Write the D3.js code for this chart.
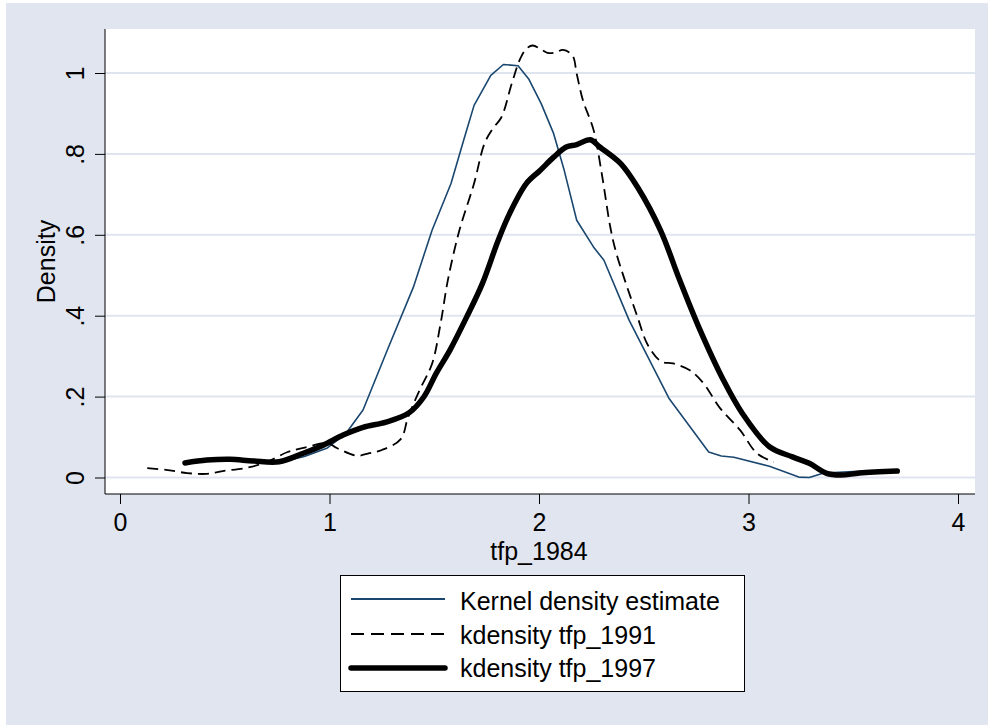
<!DOCTYPE html>
<html>
<head>
<meta charset="utf-8">
<script src="https://cdn.jsdelivr.net/npm/d3@7"></script>
<style>
  html, body { margin: 0; padding: 0; background: #fff; }
  svg { display: block; font-family: "Liberation Sans", Arial, sans-serif; }
</style>
</head>
<body>
<svg width="988" height="725"></svg>
<script>
// tick labels
const xTicks = [0, 1, 2, 3, 4];
const yTicks = [0, 0.2, 0.4, 0.6, 0.8, 1];
const yTickLabels = ["0", ".2", ".4", ".6", ".8", "1"];

// series
const x1984 = [0.31, 0.42, 0.53, 0.64, 0.76, 0.88, 0.99, 1.08, 1.16, 1.28, 1.40, 1.49, 1.58, 1.64, 1.69, 1.77, 1.83, 1.90, 1.95, 2.01, 2.07, 2.12, 2.18, 2.26, 2.31, 2.43, 2.62, 2.81, 2.87, 2.93, 3.10, 3.24, 3.29, 3.36, 3.50, 3.72];
const y1984 = [0.034, 0.040, 0.043, 0.040, 0.037, 0.052, 0.073, 0.110, 0.167, 0.320, 0.470, 0.612, 0.727, 0.833, 0.920, 0.994, 1.021, 1.018, 0.986, 0.925, 0.850, 0.760, 0.636, 0.570, 0.537, 0.389, 0.196, 0.063, 0.053, 0.050, 0.028, 0.001, 0.000, 0.011, 0.015, 0.018];

const x1991 = [0.13, 0.22, 0.32, 0.415, 0.49, 0.605, 0.70, 0.80, 0.875, 0.99, 1.035, 1.13, 1.19, 1.25, 1.34, 1.375, 1.43, 1.49, 1.53, 1.565, 1.62, 1.69, 1.74, 1.78, 1.82, 1.87, 1.91, 1.94, 1.97, 2.005, 2.04, 2.075, 2.115, 2.16, 2.18, 2.21, 2.26, 2.30, 2.34, 2.37, 2.47, 2.52, 2.585, 2.64, 2.72, 2.785, 2.865, 2.96, 3.04, 3.12];
const y1991 = [0.023, 0.019, 0.011, 0.009, 0.016, 0.024, 0.038, 0.063, 0.073, 0.085, 0.073, 0.054, 0.060, 0.068, 0.095, 0.149, 0.216, 0.282, 0.380, 0.488, 0.611, 0.727, 0.826, 0.863, 0.890, 0.974, 1.035, 1.060, 1.068, 1.060, 1.050, 1.050, 1.057, 1.043, 0.998, 0.932, 0.860, 0.750, 0.620, 0.553, 0.397, 0.327, 0.286, 0.282, 0.265, 0.233, 0.171, 0.117, 0.060, 0.038];

const x1997 = [0.31, 0.415, 0.525, 0.635, 0.76, 0.875, 0.97, 1.065, 1.16, 1.27, 1.38, 1.45, 1.51, 1.575, 1.655, 1.73, 1.805, 1.86, 1.94, 2.005, 2.07, 2.13, 2.18, 2.245, 2.29, 2.39, 2.47, 2.58, 2.67, 2.76, 2.88, 2.97, 3.10, 3.21, 3.29, 3.37, 3.44, 3.53, 3.71];
const y1997 = [0.036, 0.043, 0.045, 0.041, 0.039, 0.060, 0.080, 0.105, 0.124, 0.137, 0.160, 0.199, 0.258, 0.315, 0.397, 0.480, 0.586, 0.653, 0.727, 0.759, 0.792, 0.817, 0.823, 0.835, 0.817, 0.776, 0.718, 0.611, 0.490, 0.375, 0.241, 0.159, 0.076, 0.051, 0.035, 0.011, 0.006, 0.011, 0.016];

const legendLabels = ["Kernel density estimate", "kdensity tfp_1991", "kdensity tfp_1997"];

const series = [
    {xs: x1984, ys: y1984, color: "#1a476f", width: 1.6, dash: null, curve: d3.curveLinear},
    {xs: x1991, ys: y1991, color: "#000", width: 1.8, dash: "11,6", curve: d3.curveCatmullRom},
    {xs: x1997, ys: y1997, color: "#000", width: 5.5, dash: null, curve: d3.curveCatmullRom}
];

const fontSize = "25px";
const svg = d3.select("svg");
const area = {left: 105, right: 975, top: 29, bottom: 494};

// graph region background
svg.append("rect")
    .attr("x", 6).attr("y", 3)
    .attr("width", 988 - 6).attr("height", 725 - 3)
    .attr("fill", "#e0e5ef");

// plot region
svg.append("rect")
    .attr("x", area.left).attr("y", area.top)
    .attr("width", area.right - area.left).attr("height", area.bottom - area.top)
    .attr("fill", "#fff");

const scX = d3.scaleLinear().domain([0, 4]).range([120, 958]);
const scY = d3.scaleLinear().domain([0, 1]).range([477.5, 73]);

// grid
svg.append("g")
    .selectAll("line")
    .data(yTicks)
    .enter()
    .append("line")
    .attr("x1", area.left).attr("x2", area.right)
    .attr("y1", d => scY(d)).attr("y2", d => scY(d))
    .attr("stroke", "#dfe5ef")
    .attr("stroke-width", 2);

// axes
const axisY = d3.axisLeft(scY)
    .tickValues(yTicks)
    .tickFormat((d, i) => yTickLabels[i])
    .tickSize(10)
    .tickSizeOuter(0);
const gY = svg.append("g")
    .attr("transform", `translate(${area.left}, 0)`)
    .call(axisY);
gY.select(".domain").attr("d", `M0,${area.top}V${area.bottom}`);
gY.selectAll("text")
    .attr("x", 0).attr("dy", 0)
    .attr("transform", "translate(-21,0) rotate(-90)")
    .style("text-anchor", "middle")
    .style("font-size", fontSize)
    .style("font-family", "Liberation Sans, Arial, sans-serif")
    .attr("fill", "#000");

const axisX = d3.axisBottom(scX)
    .tickValues(xTicks)
    .tickFormat(d3.format("d"))
    .tickSize(10)
    .tickSizeOuter(0);
const gX = svg.append("g")
    .attr("transform", `translate(0, ${area.bottom})`)
    .call(axisX);
gX.select(".domain").attr("d", `M${area.left},0H${area.right}`);
gX.selectAll("text")
    .attr("y", 37).attr("dy", 0)
    .style("font-size", fontSize)
    .style("font-family", "Liberation Sans, Arial, sans-serif")
    .attr("fill", "#000");
svg.selectAll(".domain, .tick line").attr("stroke", "#000");

// axis titles
svg.append("text")
    .attr("transform", `translate(55, ${(area.top + area.bottom) / 2}) rotate(-90)`)
    .attr("text-anchor", "middle")
    .style("font-size", fontSize)
    .text("Density");
svg.append("text")
    .attr("x", scX(2)).attr("y", 560)
    .attr("text-anchor", "middle")
    .style("font-size", fontSize)
    .text("tfp_1984");

// curves
series.forEach(s => {
    const pts = s.xs.map((x, i) => [x, s.ys[i]]);
    const line = d3.line()
        .x(d => scX(d[0]))
        .y(d => scY(d[1]))
        .curve(s.curve);
    svg.append("path")
        .attr("d", line(pts))
        .attr("fill", "none")
        .attr("stroke", s.color)
        .attr("stroke-width", s.width)
        .attr("stroke-linejoin", "round")
        .attr("stroke-linecap", s.width > 3 ? "round" : "butt")
        .attr("stroke-dasharray", s.dash);
});

// legend
const lg = svg.append("g");
lg.append("rect")
    .attr("x", 340.5).attr("y", 575.5)
    .attr("width", 404).attr("height", 116)
    .attr("fill", "#fff")
    .attr("stroke", "#000")
    .attr("stroke-width", 1);
const rowY = [599, 634, 668];
const textY = [610, 644, 677];
series.forEach((s, i) => {
    lg.append("line")
        .attr("x1", 351).attr("x2", 445)
        .attr("y1", rowY[i]).attr("y2", rowY[i])
        .attr("stroke", s.color)
        .attr("stroke-width", s.width === 1.6 ? 2 : s.width)
        .attr("stroke-linecap", s.width > 3 ? "round" : "butt")
        .attr("stroke-dasharray", s.dash ? "13,7" : null);
    lg.append("text")
        .attr("x", 460).attr("y", textY[i])
        .style("font-size", fontSize)
        .text(legendLabels[i]);
});
</script>
</body>
</html>
